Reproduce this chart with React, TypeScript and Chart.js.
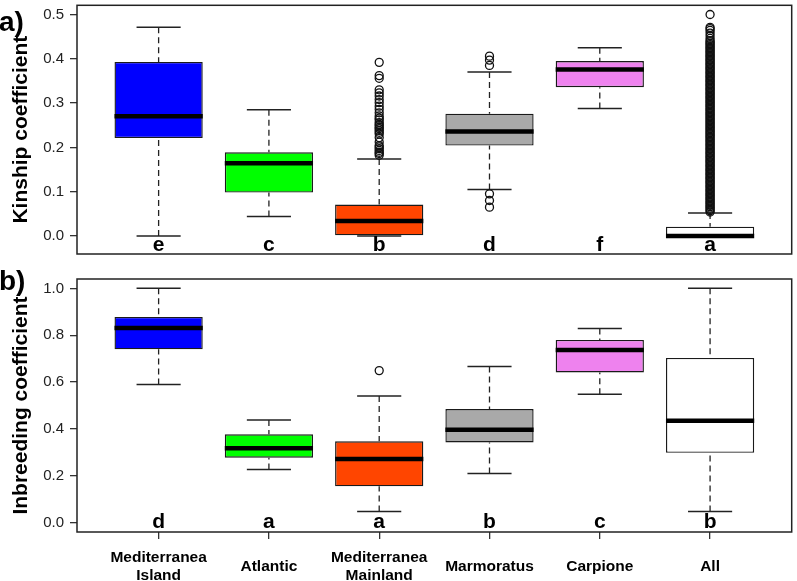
import React, { useEffect, useRef } from "react";
import { Chart, registerables } from "chart.js";

Chart.register(...registerables);

const SANS = "'Liberation Sans', Arial, Helvetica, sans-serif";

// ---------- shared ----------
const categories: (string | string[])[] = [
  ["Mediterranea", "Island"],
  "Atlantic",
  ["Mediterranea", "Mainland"],
  "Marmoratus",
  "Carpione",
  "All",
];
const boxColors = ["#0000FF", "#00FF00", "#FF4500", "#A9A9A9", "#EE82EE", "#FFFFFF"];

// ---------- panel a) Kinship coefficient ----------
const kinshipLowerWhisker = [0.0, 0.044, 0.0, 0.105, 0.288, 0.0];
const kinshipQ1 = [0.221, 0.098, 0.0, 0.204, 0.336, 0.0];
const kinshipMedian = [0.27, 0.164, 0.034, 0.236, 0.376, 0.0];
const kinshipQ3 = [0.393, 0.189, 0.071, 0.276, 0.395, 0.021];
const kinshipUpperWhisker = [0.471, 0.285, 0.174, 0.37, 0.425, 0.052];
const kinshipOutliersMainland = [
  0.182, 0.186, 0.189, 0.193, 0.197, 0.201, 0.204, 0.212, 0.222, 0.23, 0.234, 0.238, 0.242, 0.245,
  0.249, 0.252, 0.256, 0.262, 0.266, 0.271, 0.278, 0.286, 0.293, 0.301, 0.308, 0.316, 0.323, 0.33,
  0.356, 0.362, 0.392,
];
const kinshipOutliersMarmoratus = [0.065, 0.08, 0.095, 0.385, 0.397, 0.406];
const kinshipOutliersAll = [
  0.054, 0.057, 0.06, 0.063, 0.066, 0.069, 0.072, 0.075, 0.078, 0.081,
  0.084, 0.087, 0.09, 0.093, 0.096, 0.099, 0.102, 0.105, 0.108, 0.111,
  0.114, 0.117, 0.12, 0.123, 0.126, 0.129, 0.132, 0.135, 0.138, 0.141,
  0.144, 0.147, 0.15, 0.153, 0.156, 0.159, 0.162, 0.165, 0.168, 0.171,
  0.174, 0.177, 0.18, 0.183, 0.186, 0.189, 0.192, 0.195, 0.198, 0.201,
  0.204, 0.207, 0.21, 0.213, 0.216, 0.219, 0.222, 0.225, 0.228, 0.231,
  0.234, 0.237, 0.24, 0.243, 0.246, 0.249, 0.252, 0.255, 0.258, 0.261,
  0.264, 0.267, 0.27, 0.273, 0.276, 0.279, 0.282, 0.285, 0.288, 0.291,
  0.294, 0.297, 0.3, 0.303, 0.306, 0.309, 0.312, 0.315, 0.318, 0.321,
  0.324, 0.327, 0.33, 0.333, 0.336, 0.339, 0.342, 0.345, 0.348, 0.351,
  0.354, 0.357, 0.36, 0.363, 0.366, 0.369, 0.372, 0.375, 0.378, 0.381,
  0.384, 0.387, 0.39, 0.393, 0.396, 0.399, 0.402, 0.405, 0.408, 0.411,
  0.414, 0.417, 0.42, 0.423, 0.426, 0.429, 0.432, 0.435, 0.438, 0.441,
  0.446, 0.452, 0.458, 0.464, 0.468, 0.471, 0.5,
];
const kinshipOutliers = [[], [], kinshipOutliersMainland, kinshipOutliersMarmoratus, [], kinshipOutliersAll];
const kinshipLetters = ["e", "c", "b", "d", "f", "a"];
const kinshipTicks = [0.0, 0.1, 0.2, 0.3, 0.4, 0.5];

// ---------- panel b) Inbreeding coefficient ----------
const inbreedingLowerWhisker = [0.59, 0.227, 0.048, 0.21, 0.548, 0.047];
const inbreedingQ1 = [0.74, 0.277, 0.155, 0.342, 0.641, 0.298];
const inbreedingMedian = [0.831, 0.318, 0.272, 0.397, 0.737, 0.435];
const inbreedingQ3 = [0.878, 0.377, 0.347, 0.485, 0.78, 0.703];
const inbreedingUpperWhisker = [1.0, 0.438, 0.541, 0.666, 0.829, 1.0];
const inbreedingOutliers = [[], [], [0.649], [], [], []];
const inbreedingLetters = ["d", "a", "a", "b", "c", "b"];
const inbreedingTicks = [0.0, 0.2, 0.4, 0.6, 0.8, 1.0];

type Panel = {
  lower: number[];
  q1: number[];
  median: number[];
  q3: number[];
  upper: number[];
  outliers: number[][];
  letters: string[];
  letterY: number;
  ticks: number[];
  yMin: number;
  yMax: number;
  yTitle: string;
  tag: string;
  showX: boolean;
};

const panelA: Panel = {
  lower: kinshipLowerWhisker,
  q1: kinshipQ1,
  median: kinshipMedian,
  q3: kinshipQ3,
  upper: kinshipUpperWhisker,
  outliers: kinshipOutliers,
  letters: kinshipLetters,
  letterY: -0.02,
  ticks: kinshipTicks,
  yMin: -0.0408,
  yMax: 0.5208,
  yTitle: "Kinship coefficient",
  tag: "a)",
  showX: false,
};

const panelB: Panel = {
  lower: inbreedingLowerWhisker,
  q1: inbreedingQ1,
  median: inbreedingMedian,
  q3: inbreedingQ3,
  upper: inbreedingUpperWhisker,
  outliers: inbreedingOutliers,
  letters: inbreedingLetters,
  letterY: 0,
  ticks: inbreedingTicks,
  yMin: -0.04,
  yMax: 1.04,
  yTitle: "Inbreeding coefficient",
  tag: "b)",
  showX: true,
};

type Layout = { top: number; bottom: number; xHeight: number; tagBaseline: number };

function buildChart(canvas: HTMLCanvasElement, p: Panel, lay: Layout) {
  const boxData = categories.map((_, i) => ({ x: i + 1, y: [p.q1[i], p.q3[i]] }));
  const outlierData = p.outliers.flatMap((vals, i) => vals.map((v) => ({ x: i + 1, y: v })));

  const decor = {
    id: "boxDecor",
    beforeDatasetsDraw(chart: any) {
      const { ctx } = chart;
      const x = chart.scales.x;
      const y = chart.scales.y;
      ctx.save();
      ctx.strokeStyle = "#222";
      ctx.lineWidth = 1.3;
      ctx.setLineDash([6, 4]);
      categories.forEach((_, i) => {
        const px = x.getPixelForValue(i + 1);
        ctx.beginPath();
        ctx.moveTo(px, y.getPixelForValue(p.upper[i]));
        ctx.lineTo(px, y.getPixelForValue(p.q3[i]));
        ctx.moveTo(px, y.getPixelForValue(p.lower[i]));
        ctx.lineTo(px, y.getPixelForValue(p.q1[i]));
        ctx.stroke();
      });
      ctx.setLineDash([]);
      ctx.lineWidth = 1.5;
      categories.forEach((_, i) => {
        const l = x.getPixelForValue(i + 1 - 0.2);
        const r = x.getPixelForValue(i + 1 + 0.2);
        [p.lower[i], p.upper[i]].forEach((v) => {
          const py = y.getPixelForValue(v);
          ctx.beginPath();
          ctx.moveTo(l, py);
          ctx.lineTo(r, py);
          ctx.stroke();
        });
      });
      ctx.restore();
    },
    afterDatasetsDraw(chart: any) {
      const { ctx } = chart;
      const x = chart.scales.x;
      const y = chart.scales.y;
      const bars = chart.getDatasetMeta(0).data;
      ctx.save();
      ctx.strokeStyle = "#000";
      ctx.lineWidth = 4.5;
      bars.forEach((bar: any, i: number) => {
        const py = y.getPixelForValue(p.median[i]);
        ctx.beginPath();
        ctx.moveTo(bar.x - bar.width / 2, py);
        ctx.lineTo(bar.x + bar.width / 2, py);
        ctx.stroke();
      });
      ctx.fillStyle = "#000";
      ctx.font = `bold 21px ${SANS}`;
      ctx.textAlign = "center";
      ctx.textBaseline = "middle";
      p.letters.forEach((t, i) => {
        ctx.fillText(t, x.getPixelForValue(i + 1), y.getPixelForValue(p.letterY));
      });
      ctx.restore();
    },
    afterDraw(chart: any) {
      const { ctx, chartArea: a } = chart;
      const x = chart.scales.x;
      ctx.save();
      ctx.strokeStyle = "#222";
      ctx.lineWidth = 1.5;
      ctx.strokeRect(a.left, a.top, a.right - a.left, a.bottom - a.top);
      ctx.font = `bold 28px ${SANS}`;
      ctx.fillStyle = "#000";
      ctx.textAlign = "left";
      ctx.textBaseline = "alphabetic";
      ctx.fillText(p.tag, -1, lay.tagBaseline);
      if (p.showX) {
        // category labels: bold, each block centred under its tick
        ctx.font = `bold 15.5px ${SANS}`;
        ctx.textAlign = "center";
        const lineH = 18;
        categories.forEach((cat, i) => {
          const lines = Array.isArray(cat) ? cat : [cat];
          const px = x.getPixelForValue(i + 1);
          lines.forEach((ln, k) => {
            const by = a.bottom + 38.5 + (k - (lines.length - 1) / 2) * lineH;
            ctx.fillText(ln, px, by);
          });
        });
      }
      ctx.restore();
    },
  };

  return new Chart(canvas, {
    type: "bar",
    data: {
      datasets: [
        {
          type: "bar",
          data: boxData as any,
          backgroundColor: boxColors,
          borderColor: "#1a1a1a",
          borderWidth: 1.4,
          borderSkipped: false,
          categoryPercentage: 1,
          barPercentage: 0.8,
          order: 1,
        } as any,
        {
          type: "scatter",
          data: outlierData,
          pointRadius: 4,
          pointBorderWidth: 1.3,
          pointBorderColor: "#111",
          pointBackgroundColor: "rgba(0,0,0,0)",
          order: 0,
        } as any,
      ],
    },
    options: {
      responsive: false,
      animation: false,
      devicePixelRatio: 1,
      events: [],
      layout: { padding: { left: 0, right: 1.5, top: lay.top, bottom: lay.bottom } },
      plugins: { legend: { display: false }, tooltip: { enabled: false } },
      scales: {
        x: {
          type: "linear",
          min: 0.26,
          max: 6.74,
          offset: false,
          afterBuildTicks: (s: any) => {
            s.ticks = categories.map((_, i) => ({ value: i + 1 }));
          },
          afterFit: (s: any) => {
            s.height = lay.xHeight;
            s.paddingLeft = 0;
            s.paddingRight = 0;
          },
          ticks: { display: false },
          grid: {
            display: p.showX,
            offset: false,
            drawOnChartArea: false,
            drawTicks: p.showX,
            tickLength: 7,
            color: "#333",
            lineWidth: 1.3,
          },
          border: { display: false },
        },
        y: {
          type: "linear",
          min: p.yMin,
          max: p.yMax,
          beginAtZero: false,
          afterBuildTicks: (s: any) => {
            s.ticks = p.ticks.map((v) => ({ value: v }));
          },
          afterFit: (s: any) => {
            s.width = 77;
            s.paddingTop = 0;
            s.paddingBottom = 0;
          },
          ticks: {
            padding: 6,
            color: "#222",
            font: { family: SANS, size: 15 },
            callback: (v: any) => Number(v).toFixed(1),
          },
          grid: {
            drawOnChartArea: false,
            drawTicks: true,
            tickLength: 7,
            color: "#333",
            lineWidth: 1.3,
          },
          border: { display: false },
          title: {
            display: true,
            text: p.yTitle,
            color: "#000",
            font: { family: SANS, size: 21, weight: "bold" },
            padding: { top: 8.4, bottom: 0 },
          },
        },
      },
    } as any,
    plugins: [decor],
  });
}

export default function App() {
  const refA = useRef<HTMLCanvasElement>(null);
  const refB = useRef<HTMLCanvasElement>(null);

  useEffect(() => {
    const a = buildChart(refA.current!, panelA, { top: 1, bottom: 8, xHeight: 0, tagBaseline: 31 });
    const b = buildChart(refB.current!, panelB, { top: 17, bottom: 0, xHeight: 49, tagBaseline: 28 });
    return () => {
      a.destroy();
      b.destroy();
    };
  }, []);

  return (
    <div style={{ position: "absolute", left: 0, top: 0, width: 797, height: 581, background: "#fff" }}>
      <canvas ref={refA} width={797} height={262} style={{ position: "absolute", left: 0, top: 0 }} />
      <canvas ref={refB} width={797} height={319} style={{ position: "absolute", left: 0, top: 262 }} />
    </div>
  );
}
